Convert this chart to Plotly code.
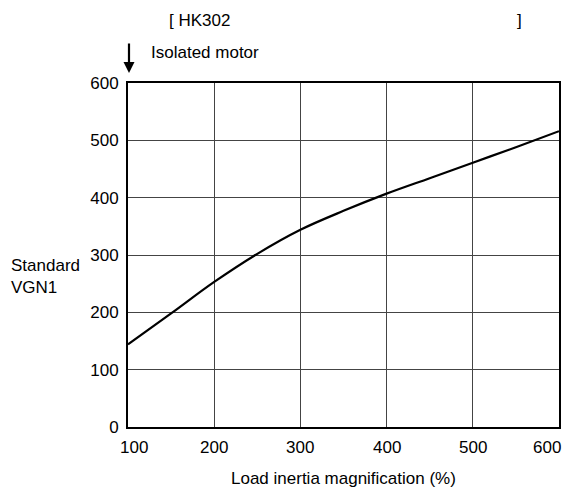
import plotly.graph_objects as go

load_pct = [100, 150, 200, 250, 300, 350, 400, 450, 500, 550, 600]
vgn1 = [144, 198, 253, 302, 344, 377, 407, 434, 461, 488, 516]
x_ticks = [100, 200, 300, 400, 500, 600]
x_tick_labels = ["100", "200", "300", "400", "500", "600"]
y_ticks = [0, 100, 200, 300, 400, 500, 600]

W, H = 569, 493
ml, mr, mt, mb = 128, 8, 83, 66
pw, ph = W - ml - mr, H - mt - mb

def px(x):
    return (x - ml) / pw

def py(y):
    return (H - mb - y) / ph

fig = go.Figure()
fig.add_trace(go.Scatter(x=load_pct, y=vgn1, mode="lines",
                         line=dict(color="black", width=2.2, shape="spline", smoothing=1.0), showlegend=False))

FS = 17
font = dict(family="Liberation Sans, Arial, sans-serif", size=FS, color="black")
annotations = [
    dict(text="[ HK302", x=px(167), y=py(21), xref="paper", yref="paper", xanchor="left", yanchor="middle", showarrow=False, font=font),
    dict(text="]", x=px(517), y=py(21), xref="paper", yref="paper", xanchor="left", yanchor="middle", showarrow=False, font=font),
    dict(text="Isolated motor", x=px(149), y=py(52), xref="paper", yref="paper", xanchor="left", yanchor="middle", showarrow=False, font=font),
    dict(text="Standard<br>VGN1", x=px(8), y=py(276), xref="paper", yref="paper", xanchor="left", yanchor="middle", align="left", showarrow=False, font=font),
    dict(text="", x=px(129), y=py(73), xref="paper", yref="paper", showarrow=True, arrowhead=2, arrowsize=1, arrowwidth=2.2, arrowcolor="black", ax=0, ay=-31),
    dict(text="Load inertia magnification (%)", x=px(345), y=py(478), xref="paper", yref="paper", xanchor="center", yanchor="middle", showarrow=False, font=font),
]
n = len(x_ticks)
for i, (v, lab) in enumerate(zip(x_ticks, x_tick_labels)):
    shift = 6 if i == 0 else (-12 if i == n - 1 else 0)
    annotations.append(dict(text=lab, x=v, xref="x", y=py(448), yref="paper", xanchor="center", yanchor="middle",
                            xshift=shift, showarrow=False, font=font))

fig.update_layout(
    width=W, height=H, margin=dict(l=ml, r=mr, t=mt, b=mb),
    paper_bgcolor="white", plot_bgcolor="white", font=font,
    xaxis=dict(range=[100, 600], tickvals=x_ticks, showticklabels=False, ticks="", showgrid=True, gridcolor="#444", gridwidth=1,
               showline=True, linecolor="black", linewidth=2, mirror=True, zeroline=False),
    yaxis=dict(range=[0, 600], tickvals=y_ticks, ticks="", showgrid=True, gridcolor="#444", gridwidth=1,
               showline=True, linecolor="black", linewidth=2, mirror=True, zeroline=False, tickfont=font,
               ticklabelstandoff=4),
    annotations=annotations,
)
fig.write_html("out.html", config={"displayModeBar": False},
               post_script="document.body.style.margin='0';document.body.style.overflow='hidden';")
